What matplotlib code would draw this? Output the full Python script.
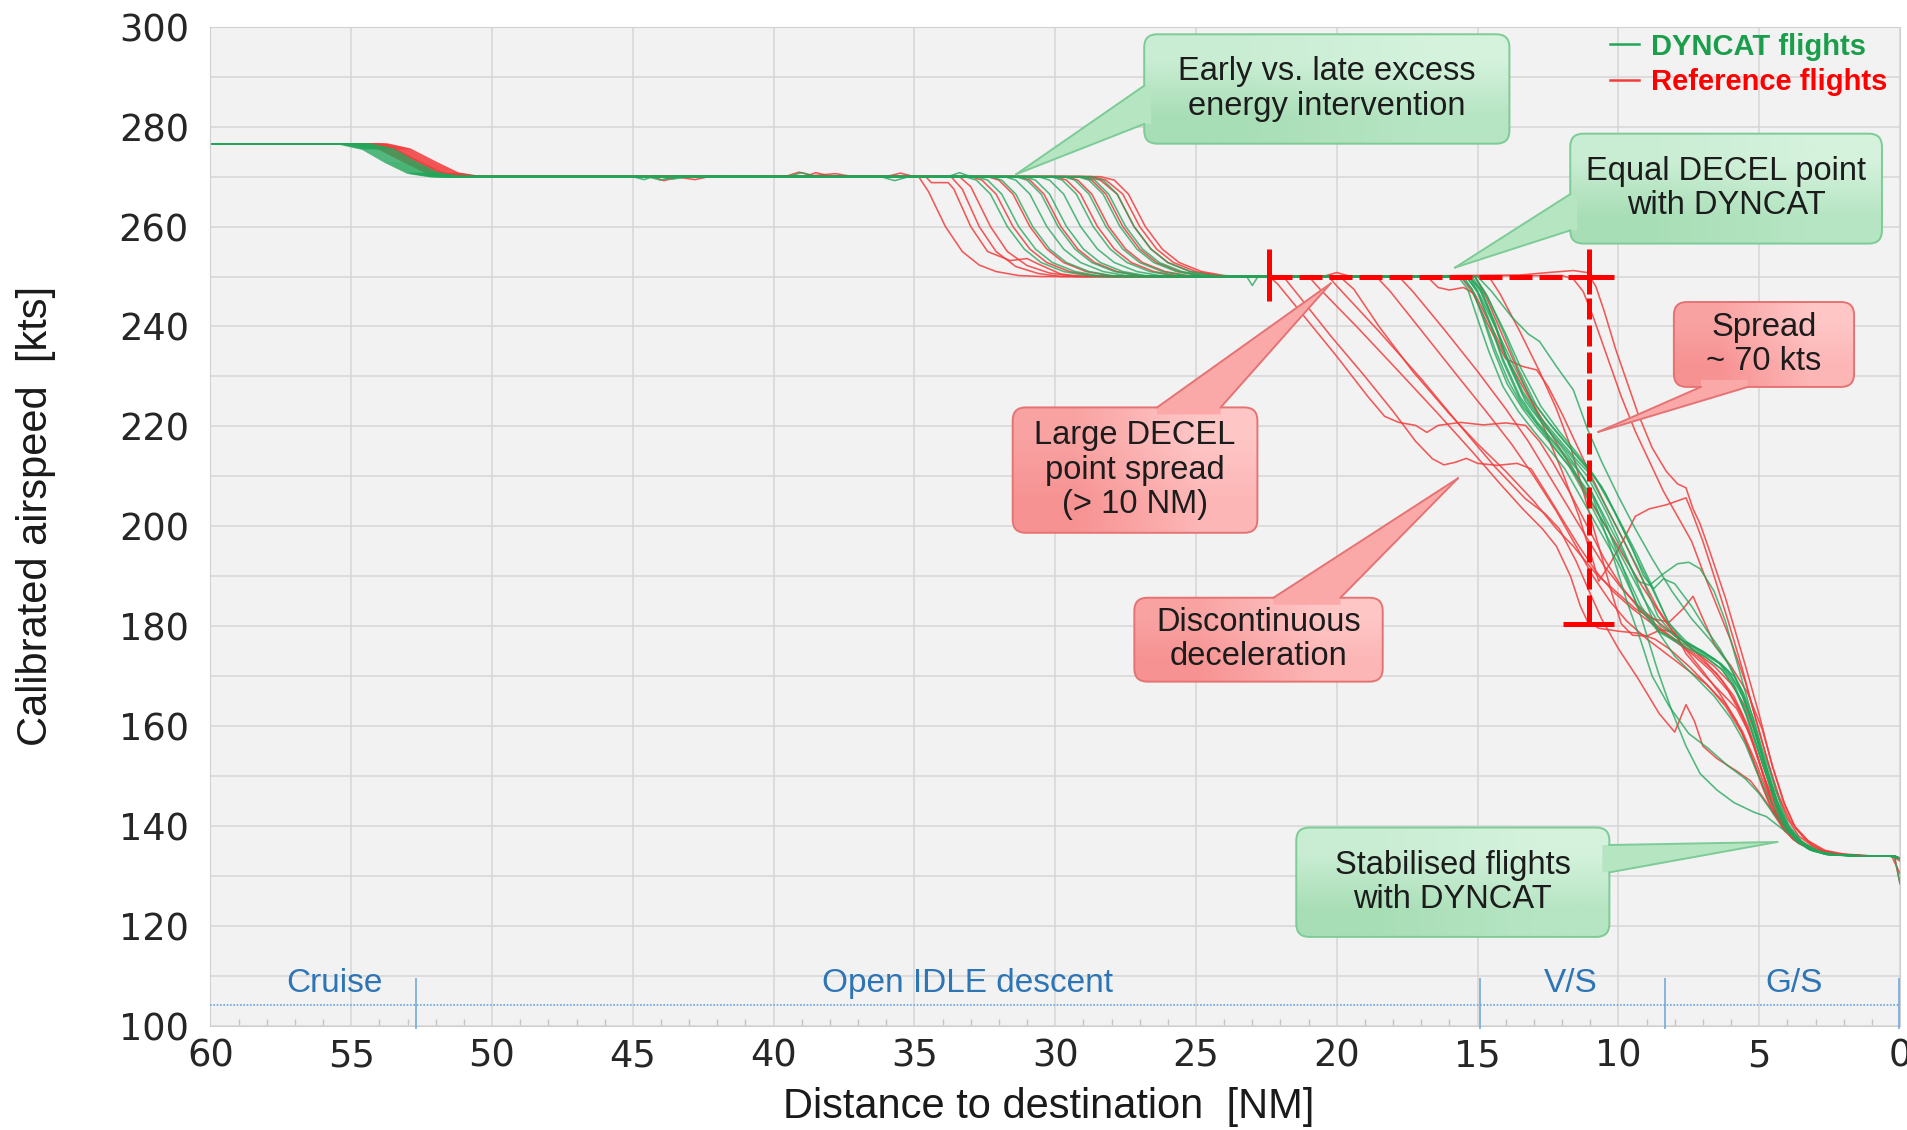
import matplotlib

matplotlib.use("Agg")
import matplotlib.pyplot as plt
import numpy as np
from matplotlib.colors import to_rgb
from matplotlib.lines import Line2D
from matplotlib.patches import FancyBboxPatch, Polygon
from matplotlib.transforms import IdentityTransform


# speed traces, (distance to destination [NM], calibrated airspeed [kts])
GREEN_FLIGHTS = [
    [(60, 276.5), (55.4, 276.5), (54.6, 275.5), (53.8, 272.9), (53.0, 270.7), (52.2, 270.0),
     (44.5, 270.0), (44.0, 269.3), (43.5, 270.1), (39.5, 270.0), (39.0, 270.8), (38.5, 270.0),
     (33.2, 270.0), (32.8, 269.3), (32.3, 266.5), (31.7, 260.0), (31.1, 255.5), (30.5, 252.8),
     (29.7, 251.0), (28.9, 250.2), (28.3, 250.0), (23.2, 250.0), (23.0, 248.2), (22.8, 250.0),
     (15.7, 250.0), (15.35, 247.5), (15.0, 241.5), (14.6, 235.0), (14.1, 228.0), (13.55, 223.0),
     (13.0, 219.0), (12.4, 215.0), (11.9, 211.5), (11.2, 204.5), (10.6, 198.5), (10.0, 192.5),
     (9.3, 184.0), (8.6, 179.0), (7.7, 176.0), (6.9, 173.8), (6.3, 171.2), (5.85, 167.5),
     (5.45, 162.0), (5.1, 156.0), (4.7, 149.5), (4.4, 144.0), (4.1, 140.0), (3.7, 137.0),
     (3.2, 135.2), (2.6, 134.3), (1.5, 134.0), (0.3, 134.0), (0.0, 133.5)],
    [(60, 276.5), (55.2, 276.5), (54.4, 275.5), (53.6, 272.9), (52.8, 270.7), (52.0, 270.0),
     (32.8, 270.0), (32.4, 269.3), (31.9, 266.5), (31.3, 260.0), (30.7, 255.5), (30.1, 252.8),
     (29.3, 251.0), (28.5, 250.2), (27.9, 250.0),
     (15.3, 250.0), (14.9, 247.5), (14.4, 241.0), (14.0, 234.5), (13.4, 227.0), (12.8, 222.0),
     (12.2, 218.0), (11.6, 214.0), (11.1, 211.0), (10.4, 203.5), (9.8, 197.0), (9.3, 191.5),
     (8.6, 182.0), (8.0, 178.0), (7.2, 175.5), (6.6, 173.5), (6.1, 171.0), (5.7, 167.5),
     (5.3, 162.0), (5.0, 156.0), (4.6, 149.5), (4.3, 144.0), (4.0, 140.0), (3.6, 137.0),
     (3.1, 135.2), (2.5, 134.3), (1.5, 134.0), (0.4, 134.0), (0.0, 133.5)],
    [(60, 276.5), (55.1, 276.5), (54.3, 275.5), (53.5, 272.9), (52.7, 270.7), (51.9, 270.0),
     (32.3, 270.0), (31.9, 269.3), (31.4, 266.5), (30.8, 260.0), (30.2, 255.5), (29.6, 252.8),
     (28.8, 251.0), (28.0, 250.2), (27.4, 250.0),
     (15.1, 250.0), (14.7, 246.5), (14.0, 238.5), (13.45, 231.5), (12.75, 224.0), (12.1, 219.0),
     (11.45, 214.5), (10.9, 210.5), (10.45, 206.5), (9.85, 199.5), (9.3, 193.0), (8.8, 187.5),
     (8.2, 180.5), (7.6, 177.0), (6.9, 174.5), (6.35, 172.5), (5.9, 170.0), (5.55, 166.5),
     (5.2, 161.5), (4.9, 155.5), (4.5, 149.0), (4.2, 143.5), (3.9, 139.5), (3.5, 136.8),
     (3.0, 135.1), (2.4, 134.3), (1.2, 134.0), (0.2, 134.0), (0.0, 128.5)],
    [(60, 276.5), (55.0, 276.5), (54.2, 275.5), (53.4, 272.9), (52.6, 270.7), (51.8, 270.0),
     (31.8, 270.0), (31.4, 269.3), (30.9, 266.5), (30.3, 260.0), (29.7, 255.5), (29.1, 252.8),
     (28.3, 251.0), (27.5, 250.2), (26.9, 250.0),
     (15.4, 250.0), (15.0, 247.0), (14.5, 240.0), (14.1, 233.5), (13.5, 226.0), (12.9, 221.0),
     (12.3, 217.0), (11.7, 213.0), (11.2, 209.5), (10.5, 202.0), (9.9, 195.5), (9.3, 189.0),
     (8.9, 188.2), (8.4, 190.5), (7.9, 192.5), (7.5, 192.8), (7.1, 191.5), (6.6, 187.0),
     (6.2, 181.0), (5.8, 173.0), (5.4, 165.0), (5.0, 157.0), (4.6, 149.0), (4.3, 143.5),
     (4.0, 139.5), (3.6, 136.8), (3.1, 135.0), (2.5, 134.2), (1.4, 134.0), (0.3, 134.0), (0.0, 133.5)],
    [(60, 276.5), (54.9, 276.5), (54.1, 275.5), (53.3, 272.9), (52.5, 270.7), (51.7, 270.0),
     (45.0, 270.0), (44.6, 269.4), (44.2, 270.2), (43.6, 269.5), (43.0, 270.0),
     (31.1, 270.0), (30.7, 269.3), (30.2, 266.5), (29.6, 260.0), (29.0, 255.5), (28.4, 252.8),
     (27.6, 251.0), (26.8, 250.2), (26.2, 250.0),
     (15.3, 250.0), (14.9, 246.0), (14.3, 239.0), (13.75, 232.5), (13.1, 225.5), (12.5, 221.0),
     (11.9, 217.0), (11.3, 213.0), (10.8, 209.5), (10.1, 202.5), (9.5, 195.5), (9.1, 190.0),
     (8.75, 187.5), (8.4, 189.5), (8.0, 188.5), (7.4, 184.0), (6.9, 179.5), (6.4, 175.5),
     (5.9, 170.5), (5.5, 165.0), (5.1, 158.0), (4.8, 152.0), (4.4, 145.0), (4.1, 140.5),
     (3.7, 137.3), (3.2, 135.4), (2.6, 134.4), (1.4, 134.0), (0.3, 134.0), (0.0, 133.5)],
    [(60, 276.5), (54.8, 276.5), (54.0, 275.5), (53.2, 272.9), (52.4, 270.7), (51.6, 270.0),
     (30.6, 270.0), (30.2, 269.3), (29.7, 266.5), (29.1, 260.0), (28.5, 255.5), (27.9, 252.8),
     (27.1, 251.0), (26.3, 250.2), (25.7, 250.0),
     (15.4, 250.0), (15.0, 246.8), (14.5, 239.5), (14.1, 233.0), (13.5, 225.5), (12.9, 220.5),
     (12.3, 216.0), (11.6, 211.0), (10.9, 205.7), (10.3, 196.0), (9.7, 185.0), (9.2, 177.0),
     (8.8, 170.0), (8.2, 164.0), (7.5, 158.5), (6.8, 155.5), (6.1, 152.0), (5.5, 149.5),
     (5.0, 146.5), (4.5, 142.5), (3.9, 138.5), (3.3, 135.6), (2.6, 134.3), (1.5, 134.0),
     (0.3, 134.0), (0.0, 133.5)],
    [(60, 276.5), (54.7, 276.5), (53.9, 275.5), (53.1, 272.9), (52.3, 270.7), (51.5, 270.0),
     (30.15, 270.0), (29.75, 269.3), (29.25, 266.5), (28.65, 260.0), (28.05, 255.5), (27.45, 252.8),
     (26.65, 251.0), (25.85, 250.2), (25.25, 250.0),
     (15.2, 250.0), (14.8, 246.5), (14.3, 239.0), (13.9, 232.5), (13.3, 225.0), (12.7, 220.5),
     (12.1, 216.5), (11.5, 212.0), (11.0, 207.5), (10.4, 200.0), (9.8, 191.0), (9.2, 182.0),
     (8.6, 171.0), (8.1, 163.0), (7.6, 156.0), (7.1, 150.5), (6.5, 147.2), (5.9, 144.7),
     (5.2, 142.8), (4.75, 141.9), (4.2, 139.5), (3.55, 137.0), (3.0, 135.0), (2.4, 134.2),
     (1.2, 134.0), (0.2, 134.0), (0.0, 133.5)],
    [(60, 276.5), (54.6, 276.5), (53.8, 275.5), (53.0, 272.9), (52.2, 270.7), (51.4, 270.0),
     (36.2, 270.0), (35.7, 269.2), (35.2, 270.0), (33.8, 270.0), (33.4, 270.8), (33.0, 270.0),
     (29.7, 270.0), (29.3, 269.3), (28.8, 266.5), (28.2, 260.0), (27.6, 255.5), (27.0, 252.8),
     (26.2, 251.0), (25.4, 250.2), (24.8, 250.0),
     (15.0, 250.0), (14.5, 247.0), (13.8, 242.0), (13.2, 238.5), (12.8, 237.0), (12.2, 232.0),
     (11.6, 227.3), (11.1, 219.5), (10.6, 213.0), (10.0, 206.0), (9.4, 199.5), (8.8, 193.5),
     (8.1, 187.0), (7.4, 181.5), (6.7, 177.0), (6.1, 172.5), (5.6, 167.0), (5.2, 160.0),
     (4.8, 152.5), (4.4, 145.5), (4.0, 140.5), (3.5, 137.0), (3.0, 135.0), (2.3, 134.2),
     (1.2, 134.0), (0.2, 134.0), (0.0, 133.5)],
    [(60, 276.5), (54.5, 276.5), (53.7, 275.5), (52.9, 272.9), (52.1, 270.7), (51.3, 270.0),
     (29.2, 270.0), (28.8, 269.3), (28.3, 266.5), (27.7, 260.0), (27.1, 255.5), (26.5, 252.8),
     (25.7, 251.0), (24.9, 250.2), (24.3, 250.0),
     (15.5, 250.0), (15.15, 247.0), (14.8, 241.5), (14.45, 235.5), (13.95, 228.5), (13.4, 223.5),
     (12.85, 219.5), (12.25, 215.5), (11.75, 212.0), (11.05, 205.0), (10.45, 198.5), (9.9, 192.5),
     (9.2, 184.0), (8.55, 179.0), (7.6, 176.2), (6.95, 174.0), (6.35, 171.5), (5.9, 168.0),
     (5.5, 163.0), (5.15, 157.0), (4.8, 151.0), (4.45, 145.0), (4.15, 141.0), (3.75, 137.5),
     (3.2, 135.3), (2.6, 134.3), (1.5, 134.0), (0.3, 134.0), (0.0, 133.5)],
    [(60, 276.5), (54.4, 276.5), (53.6, 275.5), (52.8, 272.9), (52.0, 270.7), (51.2, 270.0),
     (29.0, 270.0), (28.6, 269.3), (28.1, 266.5), (27.5, 260.0), (26.9, 255.5), (26.3, 252.8),
     (25.5, 251.0), (24.7, 250.2), (24.1, 250.0),
     (15.1, 250.0), (14.65, 246.0), (14.05, 238.5), (13.55, 231.5), (12.9, 224.0), (12.3, 219.5),
     (11.7, 215.5), (11.1, 211.5), (10.6, 208.0), (9.95, 201.0), (9.35, 194.5), (8.8, 188.0),
     (8.25, 181.0), (7.7, 177.0), (7.0, 174.5), (6.4, 172.5), (6.0, 170.0), (5.6, 166.0),
     (5.25, 161.0), (4.95, 155.0), (4.55, 148.0), (4.25, 143.0), (3.95, 139.5), (3.55, 136.8),
     (3.05, 135.1), (2.45, 134.3), (1.4, 134.0), (0.3, 134.0), (0.0, 133.5)],
    [(60, 276.5), (54.3, 276.5), (53.5, 275.5), (52.7, 272.9), (51.9, 270.7), (51.1, 270.0),
     (28.7, 270.0), (28.3, 269.3), (27.8, 266.5), (27.2, 260.0), (26.6, 255.5), (26.0, 252.8),
     (25.2, 251.0), (24.4, 250.2), (23.8, 250.0),
     (15.3, 250.0), (14.9, 247.0), (14.4, 240.5), (14.0, 234.0), (13.4, 226.5), (12.8, 221.5),
     (12.2, 217.5), (11.6, 213.5), (11.1, 210.0), (10.4, 202.5), (9.8, 195.0), (9.2, 187.0),
     (8.6, 179.0), (8.0, 174.0), (7.3, 170.0), (6.6, 166.0), (6.0, 161.5), (5.5, 156.5),
     (5.1, 151.0), (4.7, 146.0), (4.3, 142.0), (3.9, 139.0), (3.4, 136.5), (2.8, 134.8),
     (2.2, 134.2), (1.2, 134.0), (0.2, 134.0), (0.0, 133.5)],
    [(60, 276.5), (55.3, 276.5), (54.5, 275.5), (53.7, 272.9), (52.9, 270.7), (52.1, 270.0),
     (31.4, 270.0), (31.0, 269.3), (30.5, 266.5), (29.9, 260.0), (29.3, 255.5), (28.7, 252.8),
     (27.9, 251.0), (27.1, 250.2), (26.5, 250.0),
     (15.6, 250.0), (15.2, 247.5), (14.8, 242.0), (14.35, 235.0), (13.9, 229.0), (13.4, 224.0),
     (12.8, 220.0), (12.2, 216.0), (11.7, 212.5), (11.0, 205.5), (10.4, 199.5), (9.8, 193.0),
     (9.1, 185.5), (8.5, 180.0), (7.7, 177.0), (7.0, 175.0), (6.4, 172.5), (5.95, 169.0),
     (5.55, 164.0), (5.2, 158.5), (4.85, 152.0), (4.5, 146.0), (4.2, 141.5), (3.8, 138.0),
     (3.3, 135.6), (2.7, 134.4), (1.6, 134.0), (0.4, 134.0), (0.0, 133.5)],
]

RED_FLIGHTS = [
    [(60, 276.5), (54.8, 276.5), (54.0, 275.5), (53.1, 272.9), (52.3, 270.7), (51.5, 270.0),
     (34.85, 270.0), (34.5, 267.0), (33.9, 260.0), (33.3, 255.0), (32.7, 252.3), (32.1, 251.0),
     (31.3, 250.2), (30.5, 250.0),
     (22.4, 250.0), (22.1, 248.5), (21.3, 243.0), (20.0, 234.0), (18.9, 226.0), (18.3, 222.0),
     (17.8, 220.8), (17.2, 220.2), (16.8, 218.8), (16.4, 220.2), (15.6, 220.8), (14.8, 220.3),
     (14.0, 220.7), (13.3, 220.2), (12.8, 217.0), (12.3, 212.5), (11.7, 206.5), (11.1, 200.0),
     (10.5, 193.5), (9.9, 188.0), (9.2, 183.0), (8.5, 179.5), (7.9, 177.0), (7.2, 174.0),
     (6.5, 170.5), (5.9, 166.0), (5.4, 160.0), (5.0, 153.0), (4.6, 146.0), (4.2, 141.0),
     (3.8, 137.8), (3.2, 135.5), (2.6, 134.5), (1.5, 134.0), (0.3, 134.0), (0.0, 133.0)],
    [(60, 276.5), (54.6, 276.5), (53.8, 275.5), (52.9, 272.9), (52.1, 270.7), (51.3, 270.0),
     (34.6, 270.0), (34.4, 268.8), (33.8, 268.8), (33.6, 267.5), (33.0, 260.0), (32.4, 255.0),
     (31.6, 253.2), (31.0, 253.6), (30.6, 252.5), (29.8, 250.5), (29.0, 250.0),
     (21.9, 250.0), (21.4, 246.5), (20.2, 238.0), (19.0, 230.0), (18.0, 223.0), (17.2, 217.0),
     (16.6, 213.5), (16.2, 212.3), (15.8, 212.8), (15.4, 213.6), (15.0, 212.6), (14.3, 212.2),
     (13.6, 212.6), (13.1, 211.5), (12.6, 207.0), (12.0, 201.5), (11.4, 196.0), (10.8, 191.0),
     (10.2, 187.0), (9.5, 183.5), (8.8, 180.5), (8.1, 177.5), (7.4, 174.5), (6.7, 171.0),
     (6.1, 167.0), (5.6, 162.0), (5.2, 156.0), (4.8, 149.5), (4.4, 144.0), (4.0, 140.0),
     (3.6, 137.2), (3.0, 135.2), (2.4, 134.3), (1.4, 134.0), (0.3, 134.0), (0.0, 130.5)],
    [(60, 276.5), (54.5, 276.5), (53.7, 275.5), (52.8, 272.9), (52.0, 270.7), (51.2, 270.0),
     (44.3, 270.0), (43.9, 269.2), (43.4, 269.9), (42.8, 269.4), (42.3, 270.0), (39.6, 270.0),
     (39.1, 270.9), (38.6, 270.2), (37.8, 270.6), (37.2, 270.0),
     (33.7, 270.0), (33.3, 267.5), (32.7, 260.0), (32.1, 255.0), (31.4, 252.0), (30.6, 250.6),
     (29.8, 250.0),
     (21.0, 250.0), (20.6, 247.5), (19.3, 240.0), (17.8, 231.0), (16.4, 222.5), (15.2, 215.0),
     (14.2, 208.5), (13.4, 203.5), (12.7, 199.5), (12.2, 196.0), (11.7, 190.0), (11.35, 184.0),
     (11.1, 181.0), (10.7, 179.6), (10.0, 179.0), (9.3, 178.6), (8.7, 177.4), (8.2, 175.5),
     (7.5, 172.0), (6.8, 168.0), (6.2, 164.0), (5.6, 158.5), (5.1, 151.5), (4.7, 145.5),
     (4.3, 141.0), (3.8, 137.5), (3.2, 135.4), (2.5, 134.4), (1.4, 134.0), (0.3, 134.0), (0.0, 133.5)],
    [(60, 276.5), (54.4, 276.5), (53.6, 275.5), (52.7, 272.9), (51.9, 270.7), (51.1, 270.0),
     (33.4, 270.0), (33.0, 268.0), (32.3, 260.0), (31.7, 255.0), (31.0, 252.2), (30.2, 250.7),
     (29.3, 250.0),
     (20.3, 250.0), (19.9, 247.5), (18.5, 239.0), (17.0, 229.5), (15.6, 220.0), (14.4, 212.0),
     (13.3, 205.5), (12.6, 202.5), (12.1, 199.5), (11.5, 193.0), (11.0, 186.5), (10.6, 181.5),
     (10.0, 175.5), (9.3, 169.5), (8.55, 162.5), (8.0, 158.8), (7.6, 164.3), (7.3, 161.0),
     (7.0, 156.0), (6.5, 153.5), (5.8, 151.0), (5.3, 149.0), (4.9, 146.0), (4.4, 142.0),
     (3.8, 138.0), (3.2, 135.5), (2.5, 134.3), (1.3, 134.0), (0.2, 134.0), (0.0, 133.5)],
    [(60, 276.5), (54.3, 276.5), (53.5, 275.5), (52.6, 272.9), (51.8, 270.7), (51.0, 270.0),
     (32.4, 270.0), (32.0, 269.3), (31.5, 266.5), (30.9, 260.0), (30.3, 255.5), (29.7, 252.8),
     (28.9, 251.0), (28.1, 250.2), (27.5, 250.0),
     (19.9, 250.0), (19.4, 247.5), (18.5, 240.0), (17.3, 231.0), (16.0, 222.5), (15.0, 216.5),
     (14.0, 211.0), (13.0, 205.0), (12.2, 199.5), (11.6, 196.0), (10.8, 190.5), (10.0, 186.5),
     (9.4, 183.5), (8.8, 181.5), (8.2, 180.8), (7.7, 183.5), (7.35, 186.0), (7.0, 181.5),
     (6.6, 176.5), (6.0, 172.0), (5.4, 166.5), (4.9, 159.5), (4.5, 151.5), (4.1, 144.5),
     (3.7, 139.5), (3.1, 136.0), (2.4, 134.5), (1.3, 134.0), (0.2, 134.0), (0.0, 133.5)],
    [(60, 276.5), (54.2, 276.5), (53.4, 275.5), (52.5, 272.9), (51.7, 270.7), (50.9, 270.0),
     (31.3, 270.0), (30.9, 269.3), (30.4, 266.5), (29.8, 260.0), (29.2, 255.5), (28.6, 252.8),
     (27.8, 251.0), (27.0, 250.2), (26.4, 250.0),
     (18.6, 250.0), (18.1, 247.0), (16.9, 238.5), (15.7, 230.0), (14.7, 223.0), (13.8, 216.5),
     (13.0, 210.0), (12.2, 203.0), (11.5, 196.0), (10.9, 190.0), (10.3, 185.0), (9.7, 181.0),
     (9.0, 177.5), (8.3, 174.5), (7.6, 171.5), (6.9, 168.5), (6.2, 164.5), (5.6, 159.0),
     (5.1, 152.5), (4.7, 146.5), (4.3, 141.5), (3.8, 138.0), (3.2, 135.6), (2.6, 134.5),
     (1.5, 134.0), (0.3, 134.0), (0.0, 133.5)],
    [(60, 276.5), (54.1, 276.5), (53.3, 275.5), (52.4, 272.9), (51.6, 270.7), (50.8, 270.0),
     (38.9, 270.0), (38.5, 270.8), (38.0, 270.1), (36.0, 270.0), (35.5, 270.7), (35.0, 270.0),
     (29.6, 270.0), (29.2, 269.3), (28.7, 266.5), (28.1, 260.0), (27.5, 255.5), (26.9, 252.8),
     (26.1, 251.0), (25.3, 250.2), (24.7, 250.0),
     (17.8, 250.0), (17.3, 247.0), (16.2, 239.5), (15.0, 231.0), (14.0, 223.5), (13.2, 217.0),
     (12.5, 210.5), (11.8, 204.0), (11.1, 197.5), (10.5, 192.0), (9.8, 187.0), (9.1, 183.0),
     (8.4, 180.0), (7.7, 177.0), (7.0, 173.5), (6.3, 169.0), (5.7, 163.5), (5.2, 156.5),
     (4.8, 149.0), (4.45, 143.0), (4.1, 139.5), (3.6, 136.7), (3.0, 135.0), (2.3, 134.3),
     (1.2, 134.0), (0.2, 134.0), (0.0, 133.5)],
    [(60, 276.5), (54.0, 276.5), (53.2, 275.5), (52.3, 272.9), (51.5, 270.7), (50.7, 270.0),
     (29.1, 270.0), (28.7, 269.3), (28.2, 266.5), (27.6, 260.0), (27.0, 255.5), (26.4, 252.8),
     (25.6, 251.0), (24.8, 250.2), (24.2, 250.0),
     (16.8, 250.0), (16.4, 247.8), (16.0, 247.3), (15.5, 247.8), (15.1, 246.5), (14.6, 241.0),
     (13.9, 233.0), (13.2, 226.0), (12.5, 219.5), (11.8, 213.0), (11.1, 206.0), (10.4, 199.5),
     (9.7, 193.0), (9.1, 187.5), (8.4, 181.5), (7.7, 176.0), (7.0, 171.0), (6.4, 166.5),
     (5.8, 161.0), (5.3, 154.5), (4.9, 148.0), (4.5, 142.5), (4.1, 139.0), (3.6, 136.5),
     (3.0, 135.0), (2.3, 134.3), (1.2, 134.0), (0.2, 134.0), (0.0, 133.5)],
    [(60, 276.5), (53.9, 276.5), (53.1, 275.5), (52.2, 272.9), (51.4, 270.7), (50.6, 270.0),
     (28.9, 270.0), (28.4, 269.3), (27.8, 266.5), (27.2, 260.0), (26.6, 255.5), (26.0, 252.8),
     (25.2, 251.0), (24.4, 250.2), (23.8, 250.0),
     (15.6, 250.0), (15.2, 247.0), (14.6, 240.0), (14.0, 233.5), (13.4, 232.0), (12.9, 231.3),
     (12.5, 228.0), (12.0, 222.5), (11.5, 216.5), (11.0, 210.5), (10.4, 203.5), (9.8, 197.0),
     (9.2, 190.0), (8.6, 183.5), (8.0, 178.5), (7.3, 175.0), (6.6, 172.0), (6.0, 168.5),
     (5.5, 164.0), (5.1, 158.0), (4.75, 151.0), (4.45, 145.0), (4.15, 140.5), (3.7, 137.2),
     (3.1, 135.2), (2.4, 134.4), (1.3, 134.0), (0.2, 134.0), (0.0, 133.5)],
    [(60, 276.5), (53.8, 276.5), (53.0, 275.5), (52.1, 272.9), (51.3, 270.7), (50.5, 270.0),
     (28.7, 270.0), (28.2, 269.3), (27.6, 266.5), (27.0, 260.0), (26.4, 255.5), (25.8, 252.8),
     (25.0, 251.0), (24.2, 250.2), (23.6, 250.0), (20.5, 250.0), (20.0, 250.8), (19.5, 250.0),
     (13.5, 250.3), (12.5, 250.8), (11.6, 251.2), (11.1, 250.8), (10.8, 248.0), (10.5, 243.0),
     (10.1, 235.5), (9.7, 229.0), (9.3, 222.5), (8.8, 215.7), (8.3, 211.0), (7.9, 208.5),
     (7.6, 207.7), (7.35, 203.5), (7.1, 200.5), (6.8, 195.7), (6.2, 185.7), (5.5, 172.3),
     (5.0, 162.3), (4.55, 152.3), (4.15, 145.0), (3.75, 140.0), (3.25, 137.0), (2.65, 135.1),
     (2.0, 134.4), (1.0, 134.0), (0.2, 134.0), (0.0, 128.5)],
    [(60, 276.5), (53.7, 276.5), (52.9, 275.5), (52.0, 272.9), (51.2, 270.7), (50.4, 270.0),
     (28.4, 270.0), (27.9, 269.3), (27.4, 266.5), (26.8, 260.0), (26.2, 255.5), (25.6, 252.8),
     (24.8, 251.0), (24.0, 250.2), (23.4, 250.0),
     (12.0, 250.2), (11.6, 249.5), (11.25, 247.0), (10.9, 242.0), (10.4, 234.0), (9.9, 226.0),
     (9.4, 219.0), (8.9, 213.0), (8.4, 207.0), (7.9, 202.0), (7.4, 197.0), (7.0, 191.0),
     (6.5, 184.0), (6.0, 177.0), (5.5, 169.0), (5.1, 161.0), (4.7, 153.0), (4.3, 146.0),
     (3.9, 141.0), (3.4, 137.5), (2.8, 135.2), (2.1, 134.3), (1.0, 134.0), (0.2, 134.0), (0.0, 133.5)],
    [(60, 276.5), (54.7, 276.5), (53.9, 275.5), (53.0, 272.9), (52.2, 270.7), (51.4, 270.0),
     (33.0, 270.0), (32.6, 269.3), (32.1, 266.5), (31.5, 260.0), (30.9, 255.5), (30.3, 252.8),
     (29.5, 251.0), (28.7, 250.2), (28.1, 250.0),
     (15.1, 250.0), (14.7, 246.0), (14.1, 238.0), (13.4, 229.0), (12.7, 220.5), (12.0, 211.0),
     (11.4, 202.0), (10.9, 193.0), (10.7, 189.0), (10.3, 192.5), (9.8, 197.5), (9.4, 202.0),
     (8.9, 203.5), (8.3, 204.3), (7.6, 205.7), (7.4, 203.0), (7.0, 197.0), (6.6, 190.0),
     (6.1, 181.0), (5.6, 171.5), (5.2, 163.0), (4.8, 155.0), (4.4, 147.0), (4.0, 141.5),
     (3.6, 138.0), (3.0, 135.5), (2.3, 134.4), (1.2, 134.0), (0.2, 134.0), (0.0, 133.5)],
    [(60, 276.5), (54.25, 276.5), (53.45, 275.5), (52.55, 272.9), (51.75, 270.7), (50.95, 270.0),
     (30.0, 270.0), (29.6, 269.3), (29.1, 266.5), (28.5, 260.0), (27.9, 255.5), (27.3, 252.8),
     (26.5, 251.0), (25.7, 250.2), (25.1, 250.0),
     (14.6, 250.0), (14.2, 246.5), (13.5, 239.0), (12.8, 231.0), (12.2, 223.5), (11.7, 216.0),
     (11.3, 208.0), (10.9, 200.0), (10.5, 192.0), (10.2, 186.0), (9.9, 180.5), (9.5, 178.2),
     (9.0, 178.0), (8.5, 179.3), (8.0, 178.8), (7.6, 174.5), (7.0, 170.5), (6.4, 167.0),
     (5.8, 163.5), (5.3, 158.0), (4.9, 151.0), (4.55, 144.5), (4.2, 140.0), (3.8, 137.3),
     (3.2, 135.3), (2.5, 134.3), (1.3, 134.0), (0.2, 134.0), (0.0, 133.5)],
]

X_TICKS = list(range(60, -1, -5))
Y_TICKS = list(range(100, 301, 20))

PHASE_BOUNDS = [52.7, 14.9, 8.35, 0.05]
PHASE_NAMES = ["Cruise", "Open IDLE descent", "V/S", "G/S"]
PHASE_CENTERS = [55.6, 33.1, 11.7, 3.75]

# DECEL point spread marker (NM, kts)
DECEL_FIRST = 22.4
DECEL_LAST = 11.05
SPREAD_TOP = 250.0
SPREAD_BOTTOM = 180.5

GREEN = "#22a65a"
RED = "#f23c3c"
PHASE_BLUE = "#2e75b6"
SANS = ["Liberation Sans", "DejaVu Sans"]

STYLES = {
    "green": dict(corners=["#c9edd3", "#d4f2dc", "#a8deb6", "#b6e5c3"],
                  edge="#7dcb96", wedge="#b6e5c2"),
    "red": dict(corners=["#f9a2a2", "#ffc6c6", "#f79292", "#fdb6b6"],
                edge="#e57373", wedge="#fba8a8"),
}


def callout(ax, text, box, tip, side, span, style):
    st = STYLES[style]
    d0, d1, v0, v1 = box
    (x0, y0), (x1, y1) = ax.transData.transform([(d0, v0), (d1, v1)])
    r = 13
    shape = dict(boxstyle=f"round,pad={r},rounding_size={r}", transform=IdentityTransform())
    body = FancyBboxPatch((x0 + r, y0 + r), x1 - x0 - 2 * r, y1 - y0 - 2 * r,
                          facecolor=st["wedge"], edgecolor="none", zorder=6, **shape)
    ax.add_patch(body)
    grad = np.array([[to_rgb(c) for c in st["corners"][:2]],
                     [to_rgb(c) for c in st["corners"][2:]]])
    img = ax.imshow(grad, extent=(d0, d1, v0, v1), aspect="auto",
                    interpolation="bilinear", zorder=6.1)
    img.set_clip_path(body)
    ax.add_patch(FancyBboxPatch((x0 + r, y0 + r), x1 - x0 - 2 * r, y1 - y0 - 2 * r,
                                facecolor="none", edgecolor=st["edge"], lw=1.4,
                                zorder=6.2, **shape))

    # pointer attached to one side of the box
    s0, s1 = span
    if side == "left":
        b1, b2 = (x0, y1 - s0 * (y1 - y0)), (x0, y1 - s1 * (y1 - y0))
        step = (7, 0)
    elif side == "right":
        b1, b2 = (x1, y1 - s0 * (y1 - y0)), (x1, y1 - s1 * (y1 - y0))
        step = (-7, 0)
    elif side == "top":
        b1, b2 = (x0 + s0 * (x1 - x0), y1), (x0 + s1 * (x1 - x0), y1)
        step = (0, -7)
    else:
        b1, b2 = (x0 + s0 * (x1 - x0), y0), (x0 + s1 * (x1 - x0), y0)
        step = (0, 7)
    tx, ty = ax.transData.transform(tip)
    pts = [(tx, ty), b1, (b1[0] + step[0], b1[1] + step[1]),
           (b2[0] + step[0], b2[1] + step[1]), b2]
    ax.add_patch(Polygon(pts, closed=True, transform=IdentityTransform(),
                         facecolor=st["wedge"], edgecolor="none", zorder=6.3))
    for b in (b1, b2):
        ax.add_line(Line2D([tx, b[0]], [ty, b[1]], transform=IdentityTransform(),
                           color=st["edge"], lw=1.4, zorder=6.4))
    ax.text((d0 + d1) / 2, (v0 + v1) / 2, text, ha="center", va="center",
            fontsize=23.5, family=SANS, color="#1c1c1c", linespacing=1.13, zorder=8)


def main() -> None:
    fig = plt.figure(figsize=(19.08, 11.30), dpi=100)
    ax = fig.add_axes([0.1103, 0.0922, 0.8855, 0.8841])
    ax.set_facecolor("#f2f2f2")
    ax.set_xlim(60, 0)
    ax.set_ylim(100, 300)

    ax.set_xticks(X_TICKS)
    ax.set_xticks(range(0, 61), minor=True)
    ax.set_yticks(Y_TICKS)
    ax.set_yticks(range(110, 300, 20), minor=True)
    ax.grid(which="major", color="#d6d6d6", lw=1.1)
    ax.grid(axis="y", which="minor", color="#d6d6d6", lw=1.1)
    ax.set_axisbelow(True)
    ax.tick_params(which="major", length=0, labelsize=26.5, labelcolor="#262626")
    ax.tick_params(axis="y", which="major", pad=15.5)
    ax.tick_params(axis="x", which="major", pad=8.5)
    ax.tick_params(axis="y", which="minor", length=0)
    ax.tick_params(axis="x", which="minor", direction="in", length=5, width=1, color="#c4c4c4")
    for sp in ax.spines.values():
        sp.set_color("#d0d0d0")

    ax.set_xlabel("Distance to destination  [NM]", fontsize=30, family=SANS, color="#1a1a1a")
    ax.xaxis.set_label_coords(0.4963, -0.0615)
    ax.set_ylabel("Calibrated airspeed  [kts]", fontsize=30, family=SANS,
                  color="#1a1a1a", va="center")
    ax.yaxis.set_label_coords(-0.103, 0.51)

    for flight in RED_FLIGHTS:
        d, v = zip(*flight)
        ax.plot(d, v, color=RED, lw=1.15, alpha=0.85, zorder=2)
    for flight in GREEN_FLIGHTS:
        d, v = zip(*flight)
        ax.plot(d, v, color=GREEN, lw=1.15, alpha=0.78, zorder=2.1)

    # flight phase strip
    ax.axhline(104.1, color="#6aa5da", lw=1.2, ls=(0, (1, 1)), zorder=3)
    ax.vlines(PHASE_BOUNDS, 99.3, 109.6, color="#6aa5da", lw=1.1, zorder=3, clip_on=False)
    for name, pos in zip(PHASE_NAMES, PHASE_CENTERS):
        ax.text(pos, 108.5, name, ha="center", va="center", fontsize=24,
                family=SANS, color=PHASE_BLUE, zorder=3)

    # DECEL point spread and speed spread markers
    mk = dict(color="#ff0000", lw=3.6, zorder=5, solid_capstyle="butt")
    ax.plot([DECEL_FIRST, DECEL_LAST + 0.75], [SPREAD_TOP, SPREAD_TOP],
            ls=(0, (4.6, 1.4)), **mk)
    ax.plot([DECEL_LAST + 0.75, DECEL_LAST - 0.9], [SPREAD_TOP, SPREAD_TOP], **mk)
    ax.plot([DECEL_FIRST, DECEL_FIRST], [SPREAD_TOP - 4.8, SPREAD_TOP + 5.5], **mk)
    ax.plot([DECEL_LAST, DECEL_LAST], [SPREAD_TOP - 3.5, SPREAD_TOP + 5.5], **mk)
    ax.plot([DECEL_LAST, DECEL_LAST], [SPREAD_BOTTOM + 1.5, SPREAD_TOP - 3.5],
            ls=(0, (4.2, 1.2)), **mk)
    ax.plot([DECEL_LAST + 0.9, DECEL_LAST - 0.9], [SPREAD_BOTTOM, SPREAD_BOTTOM], **mk)
    ax.plot([DECEL_LAST, DECEL_LAST], [SPREAD_BOTTOM, SPREAD_BOTTOM + 2.0], **mk)

    callout(ax, "Early vs. late excess\nenergy intervention", (26.84, 13.87, 276.6, 298.5),
            (31.38, 270.5), "left", (0.47, 0.82), "green")
    callout(ax, "Equal DECEL point\nwith DYNCAT", (11.71, 0.64, 256.6, 278.6),
            (15.8, 251.8), "left", (0.55, 0.88), "green")
    callout(ax, "Spread\n~ 70 kts", (8.03, 1.63, 227.9, 244.9),
            (10.71, 218.9), "bottom", (0.15, 0.41), "red")
    callout(ax, "Large DECEL\npoint spread\n(> 10 NM)", (31.51, 22.82, 198.7, 223.8),
            (20.22, 248.6), "top", (0.59, 0.85), "red")
    callout(ax, "Discontinuous\ndeceleration", (27.19, 18.37, 168.9, 185.7),
            (15.7, 209.6), "top", (0.56, 0.83), "red")
    callout(ax, "Stabilised flights\nwith DYNCAT", (21.44, 10.32, 117.8, 139.7),
            (4.36, 136.8), "right", (0.16, 0.41), "green")

    handles = [Line2D([], [], color=GREEN, lw=1.8), Line2D([], [], color=RED, lw=1.8)]
    ax.legend(handles, ["DYNCAT flights", "Reference flights"], loc="upper right",
              bbox_to_anchor=(0.996, 1.0), frameon=False, handlelength=1.0,
              handletextpad=0.4, labelspacing=0.25, borderaxespad=0.0, borderpad=0.2,
              prop={"family": SANS, "weight": "bold", "size": 21},
              labelcolor=["#1a9e4b", "#ff0000"]).set_zorder(10)

    fig.savefig("out.png", dpi=100)


if __name__ == "__main__":
    main()
